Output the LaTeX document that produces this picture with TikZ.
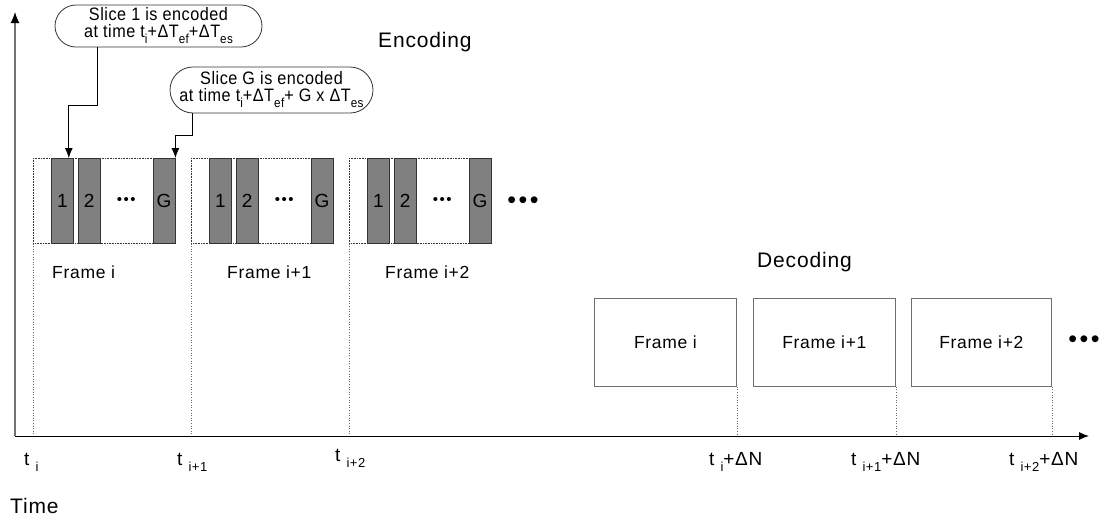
\documentclass[tikz,border=0pt]{standalone}
\usepackage{fontspec}
\setmainfont{Liberation Sans}[LetterSpace=4]
\newfontfamily\callfont{Liberation Sans}[LetterSpace=3,FakeStretch=0.9]
\newfontfamily\bulfont{Liberation Sans}[LetterSpace=10]
\usetikzlibrary{arrows.meta,positioning}
\definecolor{slicegray}{RGB}{128,128,128}
\definecolor{boxgray}{RGB}{110,110,110}
\newcommand{\lowsub}[1]{\raisebox{-6pt}{\fontsize{13}{13}\selectfont #1}}

\begin{document}
\begin{tikzpicture}[x=1pt,y=-1pt]
\tikzset{slice/.style={draw=black!80,fill=slicegray,line width=0.8pt,minimum width=22pt,minimum height=85pt,inner sep=0pt,font=\fontsize{19}{19}\selectfont},
  encframe/.style={draw=black!80,densely dotted,line width=0.6pt,minimum width=140pt,minimum height=85pt,inner sep=0pt,anchor=north west},
  decframe/.style={draw=boxgray,line width=0.8pt,minimum height=88pt,inner sep=0pt,anchor=north west,font=\fontsize{17.5}{18}\selectfont},
  callout/.style={draw=black!80,line width=0.8pt,rounded corners=21pt,align=center,inner sep=0pt,font=\callfont\fontsize{18}{17}\selectfont},
  tick/.style={draw=black!60,dotted,line width=0.6pt},
  lbl/.style={anchor=base west,inner sep=0pt,font=\fontsize{19}{19}\selectfont},
  flbl/.style={anchor=base west,inner sep=0pt,font=\fontsize{17.5}{18}\selectfont},
  ttl/.style={anchor=base west,inner sep=0pt,font=\fontsize{21}{21}\selectfont},
  sdots/.style={inner sep=0pt,font=\bulfont\fontsize{15}{15}\selectfont},
  bdots/.style={inner sep=0pt,font=\bulfont\fontsize{25}{25}\selectfont},
  >={Latex[length=10pt,width=8pt]}}
\useasboundingbox (0,0) rectangle (1112,523);

\coordinate (o) at (15,436);
\coordinate (xe) at (1089,436);
\coordinate (ye) at (15,12);
\draw[line width=1.2pt,black!55,-{Latex[length=11pt,width=9pt,black]}] (o) -- (ye);
\draw[line width=1pt,->] (o) -- (xe);

\node[encframe] (fa) at (33,158) {};
\node[encframe] (fb) at (191,158) {};
\node[encframe] (fc) at (349,158) {};

\node[slice,anchor=north west] (s1a) at ([xshift=18pt]fa.north west) {1};
\node[slice,right=4pt of s1a] (s2a) {2};
\node[slice,right=52pt of s2a] (sGa) {G};
\node[sdots,right=16pt of s2a] (pa) {•••};
\node[slice,anchor=north west] (s1b) at ([xshift=18pt]fb.north west) {1};
\node[slice,right=4pt of s1b] (s2b) {2};
\node[slice,right=52pt of s2b] (sGb) {G};
\node[sdots,right=16pt of s2b] (pb) {•••};
\node[slice,anchor=north west] (s1c) at ([xshift=18pt]fc.north west) {1};
\node[slice,right=4pt of s1c] (s2c) {2};
\node[slice,right=52pt of s2c] (sGc) {G};
\node[sdots,right=16pt of s2c] (pc) {•••};
\node[bdots] (ea) at (523,203) {•••};

\draw[tick] (fa.south west) -- (fa.south west |- o);
\draw[tick] (fb.south west) -- (fb.south west |- o);
\draw[tick] (fc.south west) -- (fc.south west |- o);

\node[flbl] (la) at (52,278) {Frame i};
\node[flbl] (lb) at (227,278) {Frame i+1};
\node[flbl] (lc) at (385,278) {Frame i+2};

\node[ttl] (enc) at (378,47) {Encoding};
\node[ttl] (dec) at (757,267) {Decoding};
\node[ttl] (time) at (10,513) {Time};

\node[decframe,minimum width=142pt] (da) at (594,298) {Frame i};
\node[decframe,minimum width=142pt] (db) at (753,298) {Frame i+1};
\node[decframe,minimum width=140pt] (dc) at (911,298) {Frame i+2};
\node[bdots] (eb) at (1084,342) {•••};
\draw[tick] (da.south east) -- (da.south east |- o);
\draw[tick] (db.south east) -- (db.south east |- o);
\draw[tick] (dc.south east) -- (dc.south east |- o);

\node[lbl] (ti) at (24,465) {t \lowsub{i}};
\node[lbl] (tb) at (177,465) {t \lowsub{i+1}};
\node[lbl] (tc) at (335,461) {t \lowsub{i+2}};
\node[lbl] (tn) at (709,465) {t \lowsub{i}+ΔN};
\node[lbl] (tnb) at (851,465) {t \lowsub{i+1}+ΔN};
\node[lbl] (tnc) at (1009,465) {t \lowsub{i+2}+ΔN};

\node[callout,minimum width=207pt,minimum height=42pt] (c1) at (158.5,26) {Slice 1 is encoded\\at time t\lowsub{i}+ΔT\lowsub{ef}+ΔT\lowsub{es}};
\node[callout,minimum width=203pt,minimum height=46pt,rounded corners=23pt] (c2) at (271.5,90) {Slice G is encoded\\at time t\lowsub{i}+ΔT\lowsub{ef}+ G x ΔT\lowsub{es}};
\draw[line width=0.8pt,->] ([xshift=-61.5pt]c1.south) -- ++(0,58) -| ([xshift=-5pt]s1a.north east);
\draw[line width=0.8pt,->] ([xshift=-79.5pt]c2.south) -- ++(0,22) -| (sGa.north east);
\end{tikzpicture}
\end{document}
